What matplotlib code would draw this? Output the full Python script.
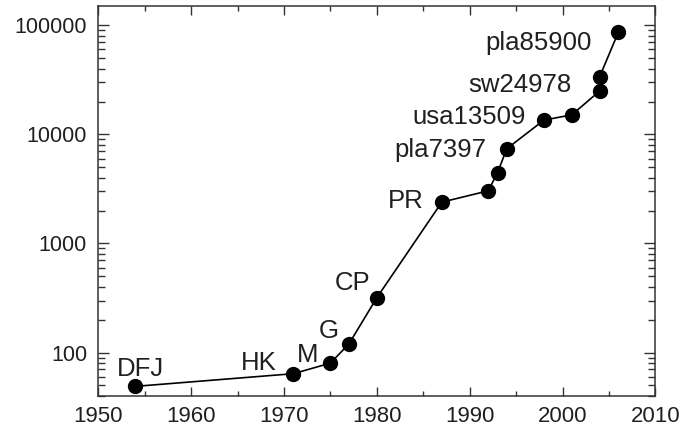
import numpy as np
import matplotlib
matplotlib.use('Agg')
import matplotlib.pyplot as plt
from matplotlib.ticker import LogLocator, FuncFormatter, MultipleLocator, NullFormatter

# record sizes of solved TSP instances
years = [1954, 1971, 1975, 1977, 1980, 1987, 1992, 1993, 1994, 1998, 2001, 2004, 2004, 2006]
cities = [49, 64, 80, 120, 318, 2392, 3038, 4461, 7397, 13509, 15112, 24978, 33810, 85900]

# label text, index of the point it belongs to
labels = ['DFJ', 'HK', 'M', 'G', 'CP', 'PR', 'pla7397', 'usa13509', 'sw24978', 'pla85900']
label_idx = [0, 1, 2, 3, 4, 5, 8, 9, 11, 13]
# offsets in pixels (right edge / baseline of text relative to point)
label_off = [(-18, 10), (-17, 4), (-12, 1), (-10, 6), (-6, 8), (-18, -6),
             (-20, -8), (-18, -4), (-28, -1), (-27, -18)]
label_ha = ['left'] + ['right'] * 9

plt.rcParams['font.family'] = ['Liberation Sans', 'DejaVu Sans']
ink = '#231f20'

fig = plt.figure(figsize=(6.82, 4.33), dpi=100)
ax = fig.add_axes([0.144, 0.0855, 0.817, 0.9005])

ax.plot(years, cities, '-o', color='black', lw=1.2, ms=10, mfc='black', mec='black')
ax.set_yscale('log')
ax.set_xlim(1950, 2010)
ax.set_ylim(40, 150000)

for txt, i, (dx, dy), ha in zip(labels, label_idx, label_off, label_ha):
    ax.annotate(txt, xy=(years[i], cities[i]), xytext=(dx, dy),
                textcoords='offset pixels', ha=ha, va='baseline',
                fontsize=18.5, color=ink)

ax.xaxis.set_major_locator(MultipleLocator(10))
ax.xaxis.set_minor_locator(MultipleLocator(5))
ax.yaxis.set_major_locator(LogLocator(base=10, numticks=10))
ax.yaxis.set_minor_locator(LogLocator(base=10, subs=np.arange(2, 10), numticks=10))
ax.yaxis.set_major_formatter(FuncFormatter(lambda v, p: '%d' % v))
ax.yaxis.set_minor_formatter(NullFormatter())

ax.tick_params(which='both', direction='in', top=True, right=True, colors='#333333',
               labelcolor=ink)
ax.tick_params(axis='y', which='major', length=8, width=1, pad=8, labelsize=15.5)
ax.tick_params(axis='y', which='minor', length=5, width=1)
ax.tick_params(axis='x', which='major', length=6.5, width=1, pad=7, labelsize=16)
ax.tick_params(axis='x', which='minor', length=3.6, width=1)
for s in ax.spines.values():
    s.set_color('#333333')
    s.set_linewidth(1.1)

fig.savefig('out.png', dpi=100)
